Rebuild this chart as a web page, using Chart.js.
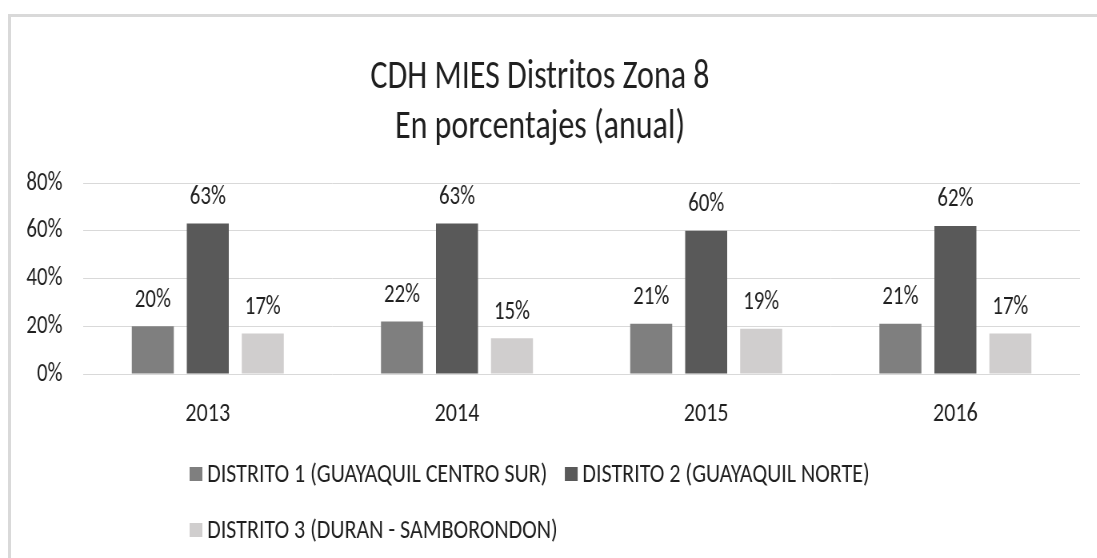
<!DOCTYPE html>
<html>
<head>
<meta charset="utf-8">
<script src="https://cdn.jsdelivr.net/npm/chart.js@4.4.1/dist/chart.umd.min.js"></script>
<style>
  body { margin: 0; background: #fff; overflow: hidden; }
  #marco { position: absolute; left: 8px; top: 14px; width: 1200px; height: 700px; border-left: 3px solid #d9d9d9; border-top: 3px solid #d9d9d9; }
  /* el original tiene la letra estrecha y alta: se dibuja más ancho y se comprime en horizontal */
  #caja { position: absolute; left: 0; top: 0; width: 1371px; height: 558px; transform: scaleX(0.8); transform-origin: 0 0; }
</style>
</head>
<body>
<div id="marco"></div>
<div id="caja"><canvas id="grafico"></canvas></div>
<script>
const anios = ['2013', '2014', '2015', '2016'];
const distrito1 = [20, 22, 21, 21];
const distrito2 = [63, 63, 60, 62];
const distrito3 = [17, 15, 19, 17];
const nombres = [
  'DISTRITO 1 (GUAYAQUIL CENTRO SUR)',
  'DISTRITO 2 (GUAYAQUIL NORTE)',
  'DISTRITO 3 (DURAN - SAMBORONDON)'
];
const titulo = ['CDH MIES Distritos Zona 8', 'En porcentajes (anual)'];

const fuente = "Carlito, 'Liberation Sans', sans-serif";
const colorTexto = '#1f1f1f';

Chart.defaults.font.family = fuente;
Chart.defaults.color = colorTexto;

// etiquetas encima de cada barra
const etiquetasPlugin = {
  id: 'etiquetas',
  afterDatasetsDraw(chart) {
    const ctx = chart.ctx;
    ctx.save();
    ctx.font = '26px ' + fuente;
    ctx.fillStyle = colorTexto;
    ctx.textAlign = 'center';
    ctx.textBaseline = 'middle';
    chart.data.datasets.forEach((ds, i) => {
      chart.getDatasetMeta(i).data.forEach((barra, j) => {
        ctx.fillText(ds.data[j] + '%', barra.x, barra.y - 26);
      });
    });
    ctx.restore();
  }
};

// leyenda como en Excel: filas alineadas a la izquierda
const leyendaPlugin = {
  id: 'leyenda',
  afterDraw(chart) {
    const ctx = chart.ctx;
    const x0 = 237, ancho = 1000;
    let x = x0, y = 474;
    ctx.save();
    ctx.font = '27.5px ' + fuente;
    ctx.textBaseline = 'middle';
    chart.data.datasets.forEach(ds => {
      const w = 22 + ctx.measureText(ds.label).width;
      if (x > x0 && x + w > x0 + ancho) { x = x0; y += 56; }
      ctx.fillStyle = ds.backgroundColor;
      ctx.fillRect(x, y - 7, 16, 14);
      ctx.fillStyle = colorTexto;
      ctx.fillText(ds.label, x + 22, y + 1);
      x += w + 22;
    });
    ctx.restore();
  }
};

new Chart(document.getElementById('grafico'), {
  type: 'bar',
  data: {
    labels: anios,
    datasets: [
      { label: nombres[0], data: distrito1, backgroundColor: '#7f7f7f' },
      { label: nombres[1], data: distrito2, backgroundColor: '#595959' },
      { label: nombres[2], data: distrito3, backgroundColor: '#d0cece' }
    ]
  },
  options: {
    responsive: true,
    maintainAspectRatio: false,
    animation: false,
    layout: { padding: { top: 0, left: 0, right: 21, bottom: 114 } },
    datasets: { bar: { categoryPercentage: 0.662, barPercentage: 0.764 } },
    plugins: {
      legend: { display: false },
      tooltip: { enabled: false },
      title: {
        display: true,
        text: titulo,
        color: colorTexto,
        font: { size: 40, weight: 'normal', lineHeight: 1.25 },
        padding: { top: 53, bottom: 30 }
      }
    },
    scales: {
      x: {
        grid: { display: false },
        border: { display: false },
        ticks: { font: { size: 27.5 }, padding: 16, color: colorTexto },
        afterFit(s) { s.height = 70; }
      },
      y: {
        min: 0,
        max: 80,
        ticks: { stepSize: 20, font: { size: 26 }, padding: 26, color: colorTexto, callback: v => v + '%' },
        grid: { color: '#d9d9d9', drawTicks: false },
        border: { display: false },
        afterFit(s) { s.width = 104; }
      }
    }
  },
  plugins: [etiquetasPlugin, leyendaPlugin]
});
</script>
</body>
</html>
